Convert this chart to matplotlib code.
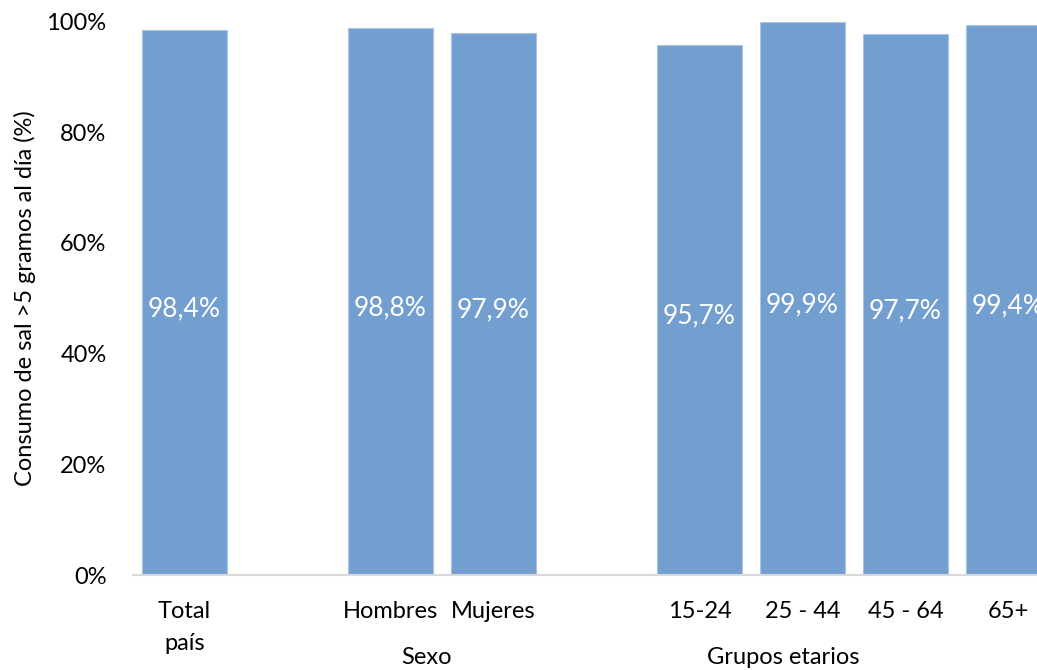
import matplotlib.pyplot as plt
import numpy as np

# categorias (con huecos entre grupos)
categorias = ["Total\npaís", "", "Hombres", "Mujeres", "", "15-24", "25 - 44", "45 - 64", "65+"]
valores = [98.4, None, 98.8, 97.9, None, 95.7, 99.9, 97.7, 99.4]
etiquetas = ["98,4%", "", "98,8%", "97,9%", "", "95,7%", "99,9%", "97,7%", "99,4%"]
grupos = ["Sexo", "Grupos etarios"]
grupos_x = [2.35, 5.81]
yticks = [0, 20, 40, 60, 80, 100]

plt.rcParams['font.family'] = ['Lato', 'DejaVu Sans']
color_barra = '#729fd0'

fig = plt.figure(figsize=(10.37, 6.7), dpi=100)
ax = fig.add_axes([133/1037, 1 - 575/670, 927/1037, 553.5/670])

x = np.arange(len(categorias))
for i, v in enumerate(valores):
    if v is None:
        continue
    ax.bar(x[i], v, width=0.82, color=color_barra, edgecolor='#a9c4e4', linewidth=0.8)
    ax.text(x[i], v / 2 - 1.1, etiquetas[i], ha='center', va='center', color='white', fontsize=19)

ax.set_xlim(-0.5, len(categorias) - 0.5)
ax.set_ylim(0, 100)
ax.set_yticks(yticks)
ax.set_yticklabels([f"{t}%" for t in yticks], fontsize=17)
ax.set_xticks(x)
ax.set_xticklabels(categorias, fontsize=17, linespacing=1.65, va='top')
ax.tick_params(axis='both', length=0)
ax.tick_params(axis='y', pad=19)
ax.tick_params(axis='x', pad=19)

for s in ['top', 'right', 'left']:
    ax.spines[s].set_visible(False)
ax.spines['bottom'].set_color('#d9d9d9')
ax.spines['bottom'].set_linewidth(1.5)

ax.set_ylabel("Consumo de sal >5 gramos al día (%)", fontsize=17)
ax.yaxis.set_label_coords(-97/927, 0.5)

for g, gx in zip(grupos, grupos_x):
    ax.text(gx, -82/5.535, g, ha='center', va='center', fontsize=17, clip_on=False)

fig.savefig("out.png", dpi=100)
